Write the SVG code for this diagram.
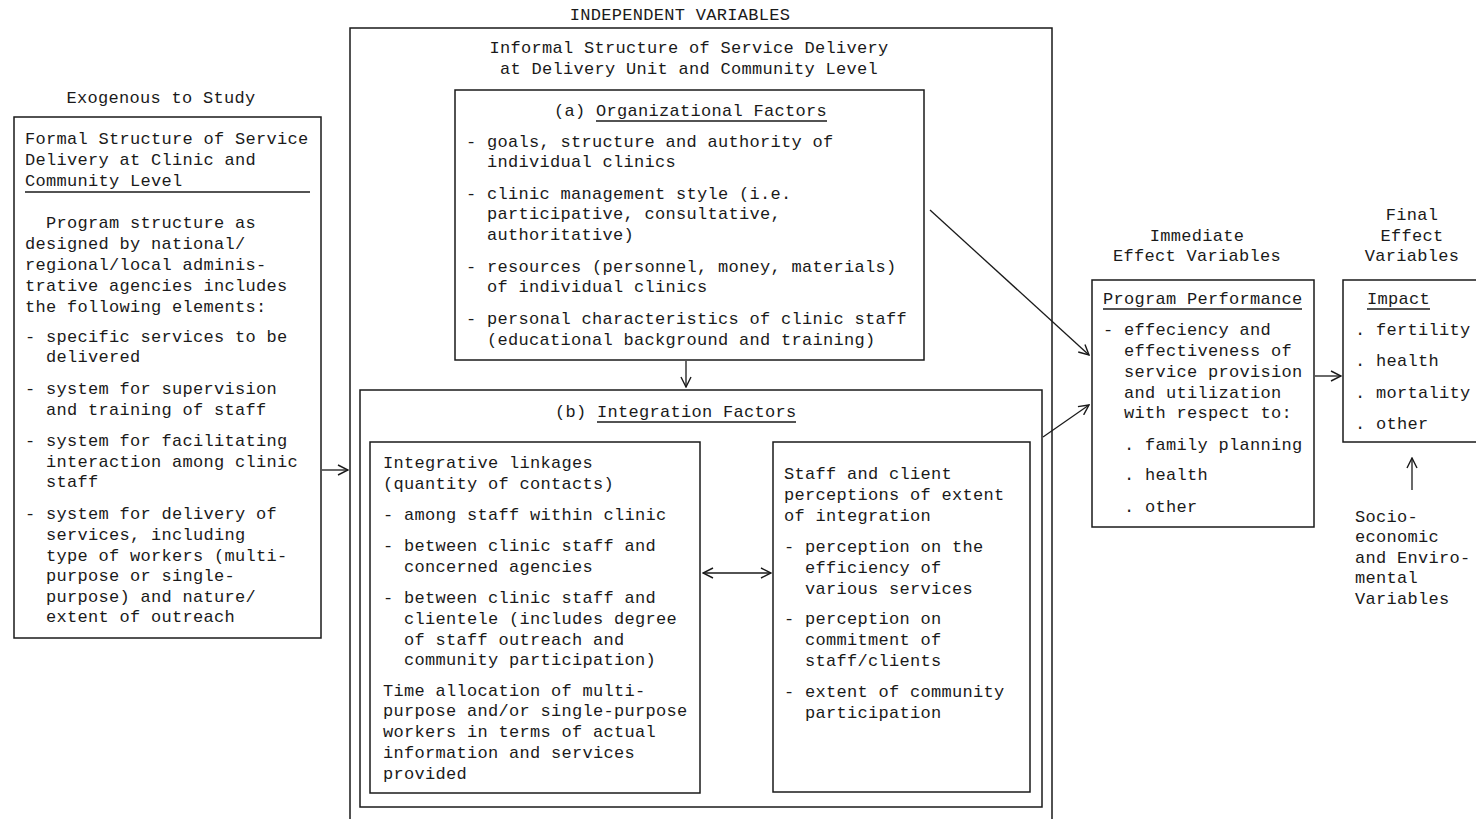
<svg xmlns="http://www.w3.org/2000/svg" width="1476" height="819" viewBox="0 0 1476 819">
<defs>
<style>
.t{font-family:"Liberation Mono","DejaVu Sans Mono",monospace;font-size:17px;letter-spacing:0.3px;fill:#1a1a1a}
.c{text-anchor:middle}
.b{fill:none;stroke:#1a1a1a;stroke-width:1.5}
.u{stroke:#1a1a1a;stroke-width:1.3}
.k{fill:none;stroke:#1a1a1a;stroke-width:1.3}
</style>
<marker id="ah" viewBox="0 0 12 12" refX="11" refY="6" markerWidth="12" markerHeight="12" markerUnits="userSpaceOnUse" orient="auto-start-reverse">
<path d="M1,1 L11,6 L1,11" fill="none" stroke="#1a1a1a" stroke-width="1.4"/>
</marker>
</defs>
<rect width="1476" height="819" fill="#ffffff"/>

<g id="header">
<text class="t c" x="680" y="20">INDEPENDENT VARIABLES</text>
<text class="t c" x="161" y="103">Exogenous to Study</text>
<text class="t c" x="1197" y="241">Immediate</text>
<text class="t c" x="1197" y="261">Effect Variables</text>
<text class="t c" x="1412" y="220">Final</text>
<text class="t c" x="1412" y="241">Effect</text>
<text class="t c" x="1412" y="261">Variables</text>
</g>

<g id="formal-structure">
<rect class="b" x="14" y="117" width="307" height="521"/>
<text class="t" x="25" y="144">Formal Structure of Service</text>
<text class="t" x="25" y="165">Delivery at Clinic and</text>
<text class="t" x="25" y="186">Community Level</text>
<line class="u" x1="25" y1="192" x2="310" y2="192"/>
<text class="t" x="46" y="228">Program structure as</text>
<text class="t" x="25" y="249">designed by national/</text>
<text class="t" x="25" y="270">regional/local adminis-</text>
<text class="t" x="25" y="291">trative agencies includes</text>
<text class="t" x="25" y="312">the following elements:</text>
<text class="t" x="25" y="342">- specific services to be</text>
<text class="t" x="46" y="362">delivered</text>
<text class="t" x="25" y="394">- system for supervision</text>
<text class="t" x="46" y="415">and training of staff</text>
<text class="t" x="25" y="446">- system for facilitating</text>
<text class="t" x="46" y="467">interaction among clinic</text>
<text class="t" x="46" y="487">staff</text>
<text class="t" x="25" y="519">- system for delivery of</text>
<text class="t" x="46" y="540">services, including</text>
<text class="t" x="46" y="561">type of workers (multi-</text>
<text class="t" x="46" y="581">purpose or single-</text>
<text class="t" x="46" y="602">purpose) and nature/</text>
<text class="t" x="46" y="622">extent of outreach</text>
</g>

<g id="informal-structure">
<path class="b" d="M350,819 V28 H1052 V819"/>
<text class="t c" x="689" y="53">Informal Structure of Service Delivery</text>
<text class="t c" x="689" y="74">at Delivery Unit and Community Level</text>
</g>

<g id="organizational-factors">
<rect class="b" x="455" y="90" width="469" height="270"/>
<text class="t" x="554" y="116">(a) Organizational Factors</text>
<line class="u" x1="596" y1="121" x2="827" y2="121"/>
<text class="t" x="466" y="147">- goals, structure and authority of</text>
<text class="t" x="487" y="167">individual clinics</text>
<text class="t" x="466" y="199">- clinic management style (i.e.</text>
<text class="t" x="487" y="219">participative, consultative,</text>
<text class="t" x="487" y="240">authoritative)</text>
<text class="t" x="466" y="272">- resources (personnel, money, materials)</text>
<text class="t" x="487" y="292">of individual clinics</text>
<text class="t" x="466" y="324">- personal characteristics of clinic staff</text>
<text class="t" x="487" y="345">(educational background and training)</text>
</g>

<g id="integration-factors">
<rect class="b" x="360" y="390" width="682" height="417"/>
<text class="t" x="555" y="417">(b) Integration Factors</text>
<line class="u" x1="597" y1="422" x2="796" y2="422"/>
</g>

<g id="integrative-linkages">
<rect class="b" x="370" y="442" width="330" height="351"/>
<text class="t" x="383" y="468">Integrative linkages</text>
<text class="t" x="383" y="489">(quantity of contacts)</text>
<text class="t" x="383" y="520">- among staff within clinic</text>
<text class="t" x="383" y="551">- between clinic staff and</text>
<text class="t" x="404" y="572">concerned agencies</text>
<text class="t" x="383" y="603">- between clinic staff and</text>
<text class="t" x="404" y="624">clientele (includes degree</text>
<text class="t" x="404" y="645">of staff outreach and</text>
<text class="t" x="404" y="665">community participation)</text>
<text class="t" x="383" y="696">Time allocation of multi-</text>
<text class="t" x="383" y="716">purpose and/or single-purpose</text>
<text class="t" x="383" y="737">workers in terms of actual</text>
<text class="t" x="383" y="758">information and services</text>
<text class="t" x="383" y="779">provided</text>
</g>

<g id="perceptions">
<rect class="b" x="773" y="442" width="257" height="350"/>
<text class="t" x="784" y="479">Staff and client</text>
<text class="t" x="784" y="500">perceptions of extent</text>
<text class="t" x="784" y="521">of integration</text>
<text class="t" x="784" y="552">- perception on the</text>
<text class="t" x="805" y="573">efficiency of</text>
<text class="t" x="805" y="594">various services</text>
<text class="t" x="784" y="624">- perception on</text>
<text class="t" x="805" y="645">commitment of</text>
<text class="t" x="805" y="666">staff/clients</text>
<text class="t" x="784" y="697">- extent of community</text>
<text class="t" x="805" y="718">participation</text>
</g>

<g id="program-performance">
<rect class="b" x="1092" y="280" width="222" height="247"/>
<text class="t" x="1103" y="304">Program Performance</text>
<line class="u" x1="1103" y1="309" x2="1302" y2="309"/>
<text class="t" x="1103" y="335">- effeciency and</text>
<text class="t" x="1124" y="356">effectiveness of</text>
<text class="t" x="1124" y="377">service provision</text>
<text class="t" x="1124" y="398">and utilization</text>
<text class="t" x="1124" y="418">with respect to:</text>
<text class="t" x="1124" y="450">. family planning</text>
<text class="t" x="1124" y="480">. health</text>
<text class="t" x="1124" y="512">. other</text>
</g>

<g id="impact">
<rect class="b" x="1343" y="280" width="140" height="162"/>
<text class="t" x="1367" y="304">Impact</text>
<line class="u" x1="1367" y1="309" x2="1430" y2="309"/>
<text class="t" x="1355" y="335">. fertility</text>
<text class="t" x="1355" y="366">. health</text>
<text class="t" x="1355" y="398">. mortality</text>
<text class="t" x="1355" y="429">. other</text>
</g>

<g id="socio-economic">
<text class="t" x="1355" y="522">Socio-</text>
<text class="t" x="1355" y="542">economic</text>
<text class="t" x="1355" y="563">and Enviro-</text>
<text class="t" x="1355" y="583">mental</text>
<text class="t" x="1355" y="604">Variables</text>
</g>

<g id="connectors">
<line class="k" x1="322" y1="470" x2="348" y2="470" marker-end="url(#ah)"/>
<line class="k" x1="686" y1="361" x2="686" y2="387" marker-end="url(#ah)"/>
<line class="k" x1="930" y1="210" x2="1089" y2="355" marker-end="url(#ah)"/>
<line class="k" x1="1043" y1="437" x2="1089" y2="405" marker-end="url(#ah)"/>
<line class="k" x1="1315" y1="376" x2="1341" y2="376" marker-end="url(#ah)"/>
<line class="k" x1="1412" y1="490" x2="1412" y2="458" marker-end="url(#ah)"/>
<line class="k" x1="703" y1="573" x2="771" y2="573" marker-start="url(#ah)" marker-end="url(#ah)"/>
</g>
</svg>
